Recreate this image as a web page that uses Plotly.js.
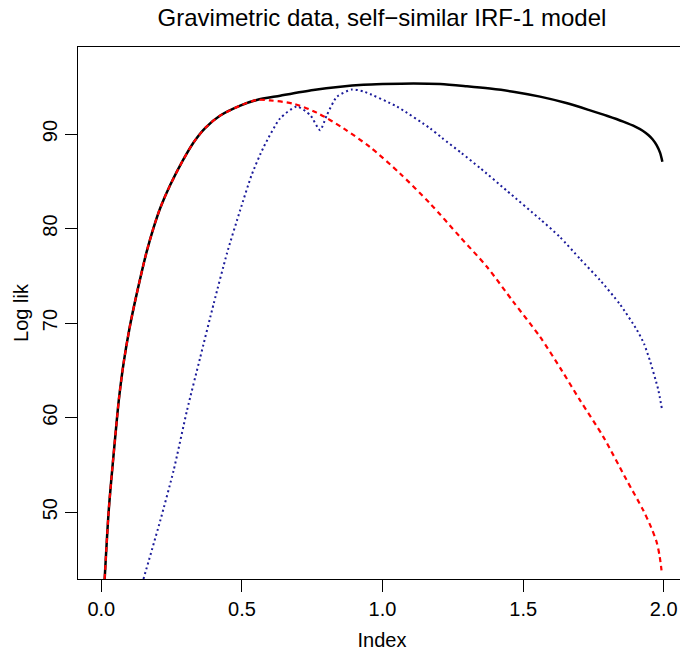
<!DOCTYPE html>
<html>
<head>
<meta charset="utf-8">
<script src="https://cdn.plot.ly/plotly-3.0.1.min.js"></script>
<style>
html, body { margin: 0; padding: 0; overflow: hidden; background: #fff; }
#chart { width: 700px; height: 651px; }
</style>
</head>
<body>
<div id="chart"></div>
<script>
// Full model (solid black)
var fullX = [0.012, 0.026, 0.0355, 0.056, 0.064, 0.08, 0.1, 0.12, 0.139, 0.16, 0.186, 0.21, 0.245, 0.29, 0.328, 0.37, 0.423, 0.494, 0.553, 0.636, 0.754, 0.85, 0.932, 1.0, 1.11, 1.205, 1.3, 1.382, 1.47, 1.56, 1.65, 1.738, 1.8, 1.856, 1.9, 1.925, 1.945, 1.96, 1.975, 1.987, 1.995];
var fullY = [42.94, 50.0, 53.4, 60.0, 62.3, 65.9, 69.4, 72.3, 74.8, 77.4, 80.1, 82.2, 84.6, 87.2, 89.1, 90.65, 91.95, 93.0, 93.6, 94.05, 94.65, 95.0, 95.2, 95.28, 95.35, 95.29, 95.05, 94.8, 94.45, 93.95, 93.3, 92.5, 91.9, 91.3, 90.75, 90.35, 89.9, 89.45, 88.8, 88.0, 87.07];

// Red dashed curve
var redX = [0.012, 0.026, 0.0355, 0.056, 0.064, 0.08, 0.1, 0.12, 0.139, 0.16, 0.186, 0.21, 0.245, 0.29, 0.328, 0.37, 0.423, 0.494, 0.553, 0.6, 0.683, 0.766, 0.861, 0.956, 1.063, 1.169, 1.276, 1.371, 1.465, 1.56, 1.637, 1.702, 1.785, 1.868, 1.927, 1.955, 1.975, 1.985, 1.992];
var redY = [42.94, 50.0, 53.4, 60.0, 62.3, 65.9, 69.4, 72.3, 74.8, 77.4, 80.1, 82.2, 84.6, 87.2, 89.1, 90.65, 91.95, 93.0, 93.6, 93.55, 93.2, 92.26, 90.6, 88.6, 85.8, 82.65, 79.1, 75.96, 72.25, 68.55, 65.0, 61.85, 57.97, 53.4, 50.2, 48.4, 46.8, 45.4, 43.86];

// Blue dotted curve
var blueX = [0.15, 0.21, 0.257, 0.305, 0.352, 0.4, 0.447, 0.494, 0.535, 0.577, 0.636, 0.695, 0.743, 0.778, 0.802, 0.838, 0.891, 0.932, 1.051, 1.169, 1.211, 1.28, 1.347, 1.442, 1.56, 1.631, 1.702, 1.773, 1.844, 1.904, 1.93, 1.951, 1.98, 1.993];
var blueY = [42.94, 49.15, 54.4, 60.8, 66.4, 72.1, 77.4, 81.96, 85.7, 88.6, 91.66, 92.9, 92.0, 90.4, 92.0, 93.95, 94.7, 94.5, 92.9, 90.6, 89.6, 88.0, 86.4, 84.0, 81.0, 79.1, 76.8, 74.55, 72.0, 69.3, 67.8, 66.0, 63.0, 61.0];

var xTicks = [0, 0.5, 1, 1.5, 2];
var yTicks = [50, 60, 70, 80, 90];

var FONT = 'Liberation Sans, Arial, Helvetica, sans-serif';

var traces = [
  { x: fullX, y: fullY, type: 'scatter', mode: 'lines',
    line: { color: '#000000', width: 2.5, shape: 'spline', smoothing: 0.8 }, hoverinfo: 'skip' },
  { x: redX, y: redY, type: 'scatter', mode: 'lines',
    line: { color: '#ff0000', width: 2.2, dash: '5px,4px', shape: 'spline', smoothing: 0.8 }, hoverinfo: 'skip' },
  { x: blueX, y: blueY, type: 'scatter', mode: 'lines',
    line: { color: '#1b1b9a', width: 2, dash: '2px,3px', shape: 'spline', smoothing: 0.6 }, hoverinfo: 'skip' }
];

var layout = {
  width: 700, height: 651,
  margin: { l: 78, r: 14, t: 47, b: 72, pad: 0 },
  paper_bgcolor: '#ffffff', plot_bgcolor: '#ffffff',
  showlegend: false,
  font: { family: FONT, size: 20, color: '#000000' },
  title: {
    text: 'Gravimetric data, self\u2212similar IRF-1 model',
    font: { family: FONT, size: 24, color: '#000000' },
    x: (78 + 686) / 2 / 700, xref: 'container', xanchor: 'center',
    y: 1 - 18 / 651, yref: 'container', yanchor: 'middle'
  },
  xaxis: {
    range: [-0.0828, 2.079],
    tickvals: xTicks, ticktext: xTicks.map(function (v) { return v.toFixed(1); }),
    ticks: 'outside', ticklen: 12, tickwidth: 1, tickcolor: '#000',
    showline: true, linecolor: '#000', linewidth: 1, mirror: true,
    showgrid: false, zeroline: false,
    tickfont: { family: FONT, size: 20, color: '#000' },
    title: { text: 'Index', font: { family: FONT, size: 20, color: '#000' }, standoff: 15 }
  },
  yaxis: {
    range: [42.94, 99.2],
    tickvals: yTicks, ticktext: yTicks.map(String),
    tickangle: -90,
    ticks: 'outside', ticklen: 12, tickwidth: 1, tickcolor: '#000',
    showline: true, linecolor: '#000', linewidth: 1, mirror: true,
    showgrid: false, zeroline: false,
    tickfont: { family: FONT, size: 20, color: '#000' },
    title: { text: 'Log lik', font: { family: FONT, size: 20, color: '#000' }, standoff: 5 }
  }
};

Plotly.newPlot('chart', traces, layout, { staticPlot: true, displayModeBar: false });
</script>
</body>
</html>
